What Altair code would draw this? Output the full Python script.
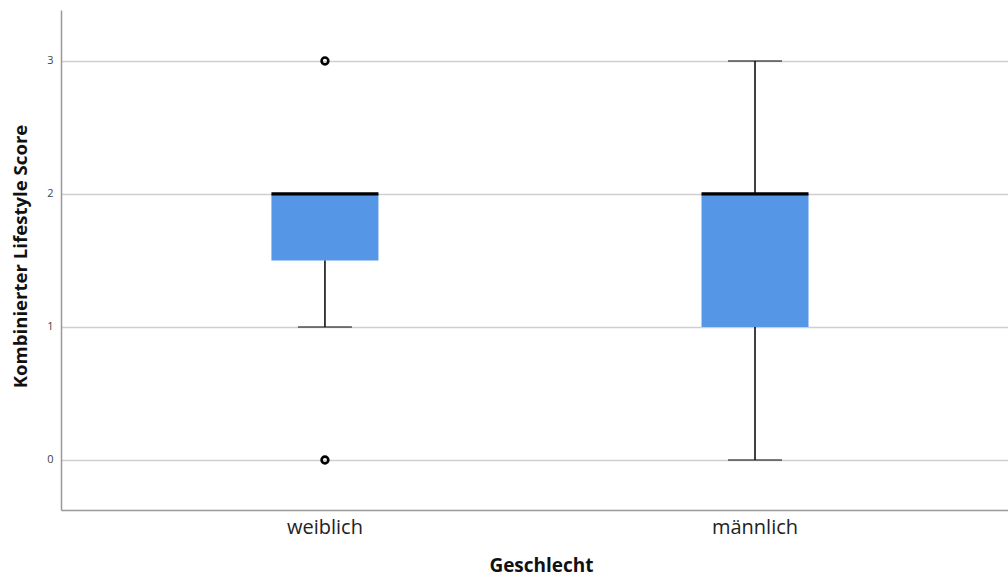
import altair as alt
import pandas as pd

# Five-number summaries per group
groups = ["weiblich", "männlich"]
whisker_low = [1, 0]
q1 = [1.5, 1]
median = [2, 2]
q3 = [2, 2]
whisker_high = [2, 3]

# Outlying observations
outlier_group = ["weiblich", "weiblich"]
outlier_value = [3, 0]

y_ticks = [0, 1, 2, 3]

box = pd.DataFrame({
    "Geschlecht": groups,
    "lo": whisker_low,
    "q1": q1,
    "median": median,
    "q3": q3,
    "hi": whisker_high,
})
outliers = pd.DataFrame({"Geschlecht": outlier_group, "value": outlier_value})

FONT = "Open Sans"
BOX_W = 107
CAP_W = 54

x_enc = alt.X(
    "Geschlecht:N",
    sort=groups,
    scale=alt.Scale(paddingInner=0, paddingOuter=0.101, align=0.563),
    axis=alt.Axis(
        title="Geschlecht",
        labelAngle=0,
        labelFontSize=20,
        labelFont=FONT,
        labelColor="#222222",
        labelPadding=7,
        ticks=False,
        domainColor="#999999",
        domainWidth=1.5,
        grid=False,
        titleFont=FONT,
        titleFontSize=19,
        titleFontWeight="bold",
        titleColor="#111111",
        titleX=480,
        titleY=55,
        titleBaseline="middle",
    ),
)

y_scale = alt.Scale(domain=[-0.376, 3.383], nice=False, zero=False)
y_axis = alt.Axis(
    title="Kombinierter Lifestyle Score",
    values=y_ticks,
    format="d",
    ticks=False,
    labelFont=FONT,
    labelFontSize=11,
    labelColor="#444444",
    labelPadding=8,
    domainColor="#999999",
    domainWidth=1.5,
    gridColor="#cfcfcf",
    gridWidth=1.5,
    titleFont=FONT,
    titleFontSize=18.6,
    titleFontWeight="bold",
    titleColor="#111111",
    titleAngle=-90,
    titleX=-41,
    titleY=246,
    titleAlign="center",
    titleBaseline="middle",
)

base = alt.Chart(box)

boxes = base.mark_bar(size=BOX_W, color="#5596e6").encode(
    x=x_enc,
    y=alt.Y("q1:Q", scale=y_scale, axis=y_axis),
    y2="q3:Q",
)

lower_whisker = base.mark_rule(color="#111111", strokeWidth=1.6).encode(
    x=alt.X("Geschlecht:N", sort=groups), y="lo:Q", y2="q1:Q"
)
upper_whisker = base.mark_rule(color="#111111", strokeWidth=1.6).encode(
    x=alt.X("Geschlecht:N", sort=groups), y="q3:Q", y2="hi:Q"
)

low_cap = base.mark_tick(color="#111111", size=CAP_W, thickness=1.6).encode(
    x=alt.X("Geschlecht:N", sort=groups), y="lo:Q"
)
high_cap = base.mark_tick(color="#111111", size=CAP_W, thickness=1.6).encode(
    x=alt.X("Geschlecht:N", sort=groups), y="hi:Q"
)

median_line = base.mark_tick(color="#000000", size=BOX_W, thickness=3.2, opacity=1).encode(
    x=alt.X("Geschlecht:N", sort=groups), y="median:Q"
)

outlier_points = alt.Chart(outliers).mark_point(
    shape="circle", filled=False, color="#000000", size=46, strokeWidth=2.6, opacity=1
).encode(
    x=alt.X("Geschlecht:N", sort=groups), y="value:Q"
)

chart = (
    alt.layer(boxes, lower_whisker, upper_whisker, low_cap, high_cap, median_line, outlier_points)
    .properties(
        width=947,
        height=500,
        autosize=alt.AutoSizeParams(type="none"),
        padding={"left": 61, "top": 10, "right": 0, "bottom": 67},
        background="#ffffff",
    )
    .configure_view(stroke=None)
)

chart.save("out.html", embed_options={"renderer": "svg", "actions": False})
